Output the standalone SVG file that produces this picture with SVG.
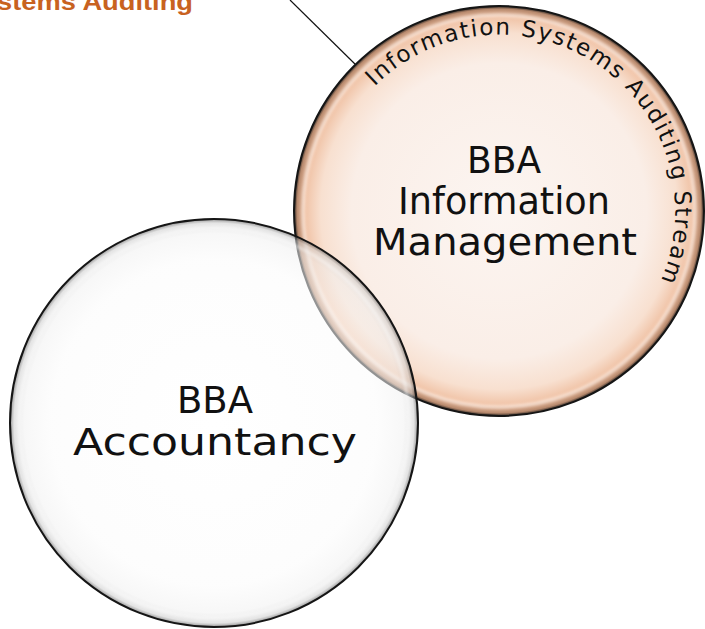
<svg xmlns="http://www.w3.org/2000/svg" width="705" height="629" viewBox="0 0 705 629">
<style>
.lbl{font-family:"DejaVu Sans","Liberation Sans",sans-serif;font-size:37px;fill:#111;text-anchor:middle}
.arc{font-family:"DejaVu Sans","Liberation Sans",sans-serif;font-size:23px;fill:#111}
.title{font-family:"Liberation Sans","DejaVu Sans",sans-serif;font-size:24px;font-weight:bold;fill:#C8621F}
.conn{stroke:#111;stroke-width:1.2;fill:none}
</style>
<defs>
<radialGradient id="peach" cx="0.5" cy="0.5" r="0.5">
<stop offset="0" stop-color="#FCF5F1"/>
<stop offset="0.72" stop-color="#FAEEE7"/>
<stop offset="0.87" stop-color="#F8E0D0"/>
<stop offset="0.95" stop-color="#F0C2A5"/>
<stop offset="0.985" stop-color="#B88A6E"/>
<stop offset="1" stop-color="#2a2420"/>
</radialGradient>
<radialGradient id="white" cx="0.5" cy="0.5" r="0.5">
<stop offset="0" stop-color="#FFFFFF"/>
<stop offset="0.8" stop-color="#FBFBFB"/>
<stop offset="0.93" stop-color="#F1F1F1"/>
<stop offset="0.98" stop-color="#CFCFCF"/>
<stop offset="1" stop-color="#444"/>
</radialGradient>
<filter id="soft" x="-10%" y="-10%" width="120%" height="120%"><feGaussianBlur stdDeviation="1.5"/></filter>
<path id="arcpath" d="M 374.5 86.5 A 176 176 0 0 1 633.8 324.1"/>
</defs>

<text class="title" x="-3" y="10" textLength="196" lengthAdjust="spacingAndGlyphs">stems Auditing</text>

<g id="connectors">
<line class="conn" x1="290" y1="0" x2="357" y2="66"/>
</g>

<g id="node-im">
<circle cx="499" cy="211" r="205" fill="url(#peach)" stroke="#151515" stroke-width="2"/>
<circle cx="499" cy="211" r="196" fill="none" stroke="#FFFFFF" stroke-width="3" opacity="0.55" filter="url(#soft)"/>
<text class="lbl" x="504" y="173" textLength="74" lengthAdjust="spacingAndGlyphs">BBA</text>
<text class="lbl" x="504" y="214" textLength="212" lengthAdjust="spacingAndGlyphs">Information</text>
<text class="lbl" x="505" y="255" textLength="264" lengthAdjust="spacingAndGlyphs">Management</text>
<text class="arc" letter-spacing="1.6"><textPath href="#arcpath">Information Systems Auditing Stream</textPath></text>
</g>

<g id="node-acc">
<circle cx="214" cy="423" r="204" fill="url(#white)" fill-opacity="0.55" stroke="#151515" stroke-width="2"/>
<circle cx="214" cy="423" r="195" fill="none" stroke="#FFFFFF" stroke-width="3" opacity="0.5" filter="url(#soft)"/>
<text class="lbl" x="215" y="413" textLength="76" lengthAdjust="spacingAndGlyphs">BBA</text>
<text class="lbl" x="215" y="455" textLength="284" lengthAdjust="spacingAndGlyphs">Accountancy</text>
</g>
</svg>
